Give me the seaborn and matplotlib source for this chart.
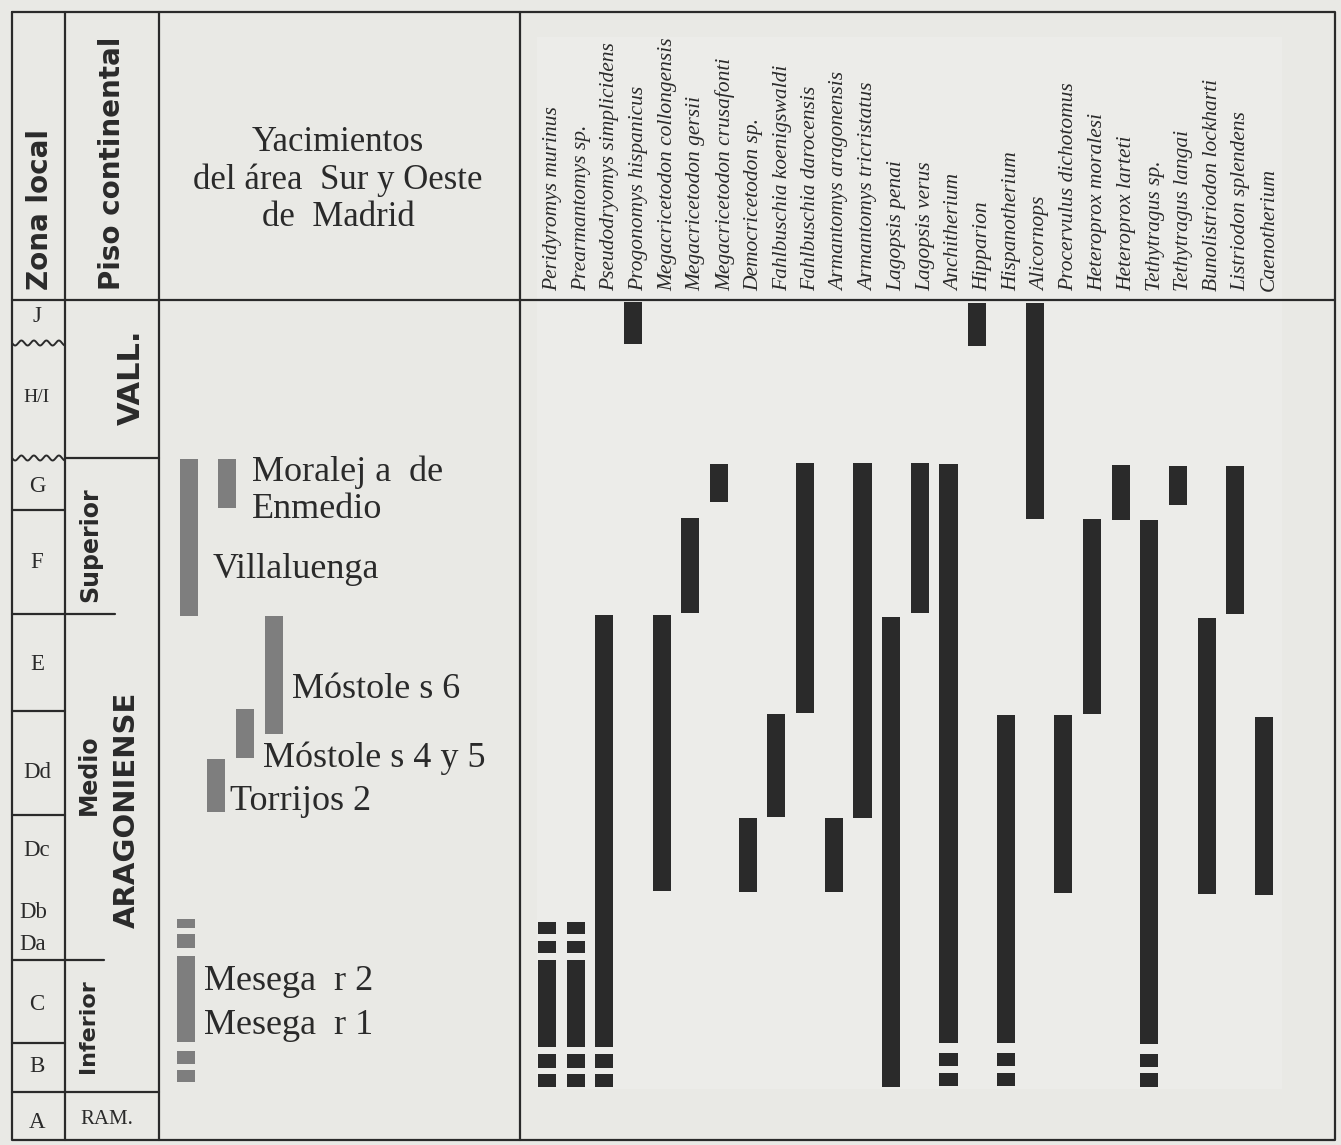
import numpy as np
import pandas as pd
import matplotlib
matplotlib.use('Agg')
import matplotlib.pyplot as plt
from matplotlib.patches import Rectangle
import seaborn as sns

# ---- data -------------------------------------------------------------
# vertical scale: stratigraphic position on the chart (0 = top of sheet, grows downwards)
species = [
    'Peridyromys murinus', 'Prearmantomys sp.', 'Pseudodryomys simplicidens',
    'Progonomys hispanicus', 'Megacricetodon collongensis', 'Megacricetodon gersii',
    'Megacricetodon crusafonti', 'Democricetodon sp.', 'Fahlbuschia koenigswaldi',
    'Fahlbuschia darocensis', 'Armantomys aragonensis', 'Armantomys tricristatus',
    'Lagopsis penai', 'Lagopsis verus', 'Anchitherium', 'Hipparion', 'Hispanotherium',
    'Alicornops', 'Procervulus dichotomus', 'Heteroprox moralesi', 'Heteroprox larteti',
    'Tethytragus sp.', 'Tethytragus langai', 'Bunolistriodon lockharti',
    'Listriodon splendens', 'Caenotherium',
]
# (top, bottom) of each range segment; several segments = dashed range
species_ranges = [
    [(922, 934), (941, 953), (960, 1047), (1054, 1068), (1074, 1087)],
    [(922, 934), (941, 953), (960, 1047), (1054, 1068), (1074, 1087)],
    [(615, 1047), (1054, 1068), (1074, 1087)],
    [(302, 344)],
    [(615, 891)],
    [(518, 613)],
    [(464, 502)],
    [(818, 892)],
    [(714, 817)],
    [(463, 713)],
    [(818, 892)],
    [(463, 818)],
    [(617, 1087)],
    [(463, 613)],
    [(464, 1043), (1053, 1066), (1073, 1086)],
    [(303, 346)],
    [(715, 1043), (1053, 1066), (1073, 1086)],
    [(303, 519)],
    [(715, 893)],
    [(519, 714)],
    [(465, 520)],
    [(520, 1044), (1054, 1067), (1073, 1087)],
    [(466, 505)],
    [(618, 894)],
    [(466, 614)],
    [(717, 895)],
]

sites = ['Villaluenga', 'Moraleja de Enmedio', 'Móstoles 6', 'Móstoles 4 y 5',
         'Torrijos 2', 'Mesegar 1-2']
site_ranges = [
    [(459, 616)],
    [(459, 508)],
    [(616, 734)],
    [(709, 758)],
    [(759, 812)],
    [(919, 928), (934, 948), (956, 1042), (1051, 1064), (1070, 1082)],
]

zone_labels = ['J', 'H/I', 'G', 'F', 'E', 'Dd', 'Dc', 'Db', 'Da', 'C', 'B', 'A']
zone_label_pos = [316, 398, 487, 563, 664, 772, 850, 913, 944, 1005, 1067, 1123]
zone_lines = [510, 614, 711, 815, 960, 1043]
zone_wavy = [343, 458]

# ---- layout -----------------------------------------------------------
W, H = 1341, 1145
X_L, X_1, X_2, X_3, X_R = 12, 65, 159, 520, 1335
Y_T, Y_H, Y_B = 12, 300, 1140
FIRST, STEP = 547, 28.68          # pixel position of first species column and spacing
site_x = [189, 227, 274, 245, 216, 186]
site_w = 18

INK = '#2a2a2a'
GREY = '#7e7e7e'
BG = '#e9e9e5'

sns.set_theme(style='white')
plt.rcParams['font.family'] = ['Liberation Serif', 'DejaVu Serif']
plt.rcParams['text.color'] = INK

fig = plt.figure(figsize=(W / 100, H / 100), dpi=100, facecolor=BG)
ax = fig.add_axes([0, 0, 1, 1])
ax.set_xlim(0, W)
ax.set_ylim(H, 0)
ax.axis('off')

# slightly lighter pasted panel behind the species columns
ax.add_patch(Rectangle((537, 37), 1282 - 537, 1089 - 37, facecolor='#ecece9',
                       edgecolor='none', zorder=0))

lw = 1.6
# frame
ax.plot([X_L, X_R, X_R, X_L, X_L], [Y_T, Y_T, Y_B, Y_B, Y_T], color=INK, lw=lw)
for xv in [X_1, X_2, X_3]:
    ax.plot([xv, xv], [Y_T, Y_B], color=INK, lw=lw)
ax.plot([X_L, X_R], [Y_H, Y_H], color=INK, lw=lw)

# zone column
for yv in zone_lines:
    ax.plot([X_L, X_1], [yv, yv], color=INK, lw=lw)
xs = np.linspace(X_L, X_1, 200)
for yv in zone_wavy:
    ax.plot(xs, yv + 2.5 * np.sin(2 * np.pi * (xs - X_L) / 12.5), color=INK, lw=1.4)
ax.plot([X_L, X_2], [1092, 1092], color=INK, lw=lw)
for lab, yv in zip(zone_labels, zone_label_pos):
    xc = 33 if lab in ('Db', 'Da') else 37
    ax.text(xc, yv, lab, ha='center', va='center',
            fontsize=14 if lab == 'H/I' else 16.5)

# stage column
ax.plot([X_1, X_2], [458, 458], color=INK, lw=lw)
ax.plot([X_1, 115], [614, 614], color=INK, lw=lw)
ax.plot([X_1, 104], [960, 960], color=INK, lw=lw)
sans = dict(family='DejaVu Sans', weight='bold', rotation=90, ha='center', va='center')
ax.text(131, 377, 'VALL.', fontsize=22, **sans)
ax.text(90, 545, 'Superior', fontsize=17, **sans)
ax.text(89, 775, 'Medio', fontsize=17, **sans)
ax.text(127, 810, 'ARAGONIENSE', fontsize=21, **sans)
ax.text(88, 1026, 'Inferior', fontsize=16, **sans)
ax.text(107, 1120, 'RAM.', ha='center', va='center', fontsize=15)

ax.text(40, 290, 'Zona local', family='DejaVu Sans', weight='bold', rotation=90,
        ha='center', va='bottom', fontsize=20)
ax.text(112, 290, 'Piso continental', family='DejaVu Sans', weight='bold', rotation=90,
        ha='center', va='bottom', fontsize=20)

ax.text(338, 180, 'Yacimientos\ndel área  Sur y Oeste\nde  Madrid', ha='center',
        va='center', fontsize=25, linespacing=1.15)

# sites (grey bars)
for xs_, segs in zip(site_x, site_ranges):
    for top, bot in segs:
        ax.bar(xs_, bot - top, bottom=top, width=site_w, color=GREY, linewidth=0)

site_text = [
    ('Moralej a  de', 252, 472), ('Enmedio', 252, 510), ('Villaluenga', 213, 570),
    ('Móstole s 6', 292, 689), ('Móstole s 4 y 5', 263, 758), ('Torrijos 2', 230, 802),
    ('Mesega  r 2', 204, 982), ('Mesega  r 1', 204, 1026),
]
for txt, xv, yv in site_text:
    ax.text(xv, yv, txt, ha='left', va='center', fontsize=26)

# species panel on its own categorical axis
x0 = (X_3 - FIRST) / STEP
x1 = (X_R - FIRST) / STEP
axs = fig.add_axes([X_3 / W, 0, (X_R - X_3) / W, 1])
axs.set_xlim(x0, x1)
axs.set_ylim(H, 0)
axs.axis('off')
axs.patch.set_alpha(0)

seg_df = pd.DataFrame(
    [(i, name, top, bot) for i, (name, segs) in enumerate(zip(species, species_ranges))
     for top, bot in segs],
    columns=['idx', 'species', 'top', 'bottom'])
axs.bar(seg_df['idx'], seg_df['bottom'] - seg_df['top'], bottom=seg_df['top'],
        width=0.63, color=INK, linewidth=0)

for i, name in enumerate(species):
    axs.text(i + 0.2, 291, name, rotation=90, ha='center', va='bottom',
             fontsize=15.5, style='italic')

fig.savefig('out.png', dpi=100, facecolor=BG)
